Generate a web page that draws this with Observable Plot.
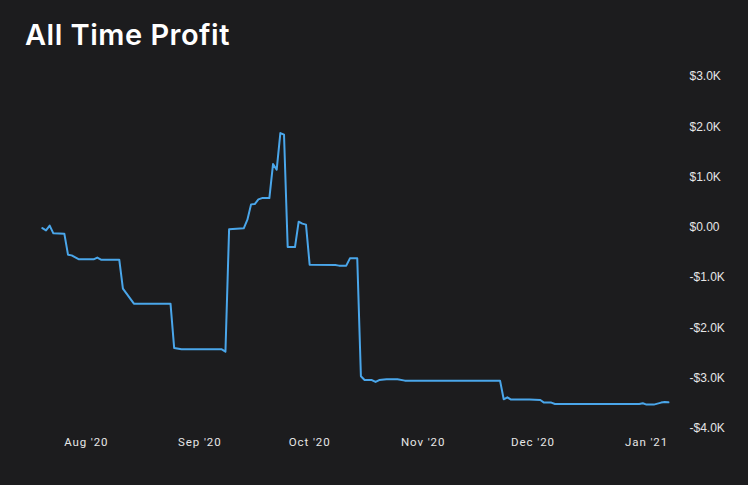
<!DOCTYPE html>
<html>
<head>
<meta charset="utf-8">
<script src="https://cdn.jsdelivr.net/npm/d3@7"></script>
<script src="https://cdn.jsdelivr.net/npm/@observablehq/plot@0.6"></script>
<style>
  html, body { margin: 0; padding: 0; background: #1c1c1e; width: 748px; height: 485px; overflow: hidden; }
  #title { height: 60px; box-sizing: border-box; padding: 20px 0 0 25px; color: #ffffff;
           font-family: Inter, "Open Sans", sans-serif; font-weight: 600; font-size: 29px; line-height: 29px;
           letter-spacing: 0.5px; }
  #chart svg { display: block; }
  #chart g[aria-label="x-axis tick label"] text { letter-spacing: 0.9px; }
</style>
</head>
<body>
<div id="title">All Time Profit</div>
<div id="chart"></div>
<script>
// Profit series (date, cumulative profit in USD)
const dates = [
  "2020-07-20","2020-07-21","2020-07-22","2020-07-23","2020-07-26","2020-07-27","2020-07-28","2020-07-30",
  "2020-08-03","2020-08-04","2020-08-05","2020-08-10","2020-08-11","2020-08-14","2020-08-24","2020-08-25",
  "2020-08-27","2020-09-07","2020-09-08","2020-09-09","2020-09-11","2020-09-13","2020-09-14","2020-09-15",
  "2020-09-16","2020-09-17","2020-09-18","2020-09-20","2020-09-21","2020-09-22","2020-09-23","2020-09-24",
  "2020-09-25","2020-09-27","2020-09-28","2020-09-29","2020-09-30","2020-10-01","2020-10-08","2020-10-09",
  "2020-10-11","2020-10-12","2020-10-14","2020-10-15","2020-10-16","2020-10-18","2020-10-19","2020-10-20",
  "2020-10-22","2020-10-25","2020-10-27","2020-11-22","2020-11-23","2020-11-24","2020-11-25","2020-11-30",
  "2020-12-03","2020-12-04","2020-12-06","2020-12-07","2020-12-30","2020-12-31","2021-01-01","2021-01-03",
  "2021-01-05","2021-01-06","2021-01-07"
];
const profit = [
  -15,-60,34,-119,-125,-543,-557,-636,
  -636,-602,-642,-642,-1219,-1517,-1517,-2400,
  -2425,-2425,-2471,-40,-26,-20,153,457,
  463,557,582,582,1258,1147,1875,1843,
  -392,-392,113,74,54,-742,-750,-761,
  -761,-616,-616,-2962,-3036,-3036,-3075,-3036,
  -3022,-3022,-3048,-3048,-3419,-3380,-3425,-3425,
  -3433,-3485,-3485,-3513,-3513,-3499,-3525,-3525,
  -3485,-3473,-3479
];
const xTicks = ["2020-08-01","2020-09-01","2020-10-01","2020-11-01","2020-12-01","2021-01-01"];
const yTicks = [3000, 2000, 1000, 0, -1000, -2000, -3000, -4000];

const data = dates.map((d, i) => ({date: new Date(d), value: profit[i]}));
const fmtX = d3.utcFormat("%b '%y");
const fmtY = v => v === 0 ? "$0.00" : (v < 0 ? "-" : "") + "$" + (Math.abs(v) / 1000).toFixed(1) + "K";

const chart = Plot.plot({
  width: 748,
  height: 425,
  marginTop: 16,
  marginBottom: 57,
  marginLeft: 20,
  marginRight: 67,
  style: {background: "transparent", color: "#e6e6e6"},
  x: {type: "utc", domain: [new Date(xTicks[0]), new Date(xTicks[5])], range: [85.8, 646]},
  y: {domain: [-4000, 3000], range: [368, 16]},
  marks: [
    Plot.axisX(xTicks.map(d => new Date(d)), {
      tickSize: 0, tickPadding: 9, tickFormat: fmtX, fill: "#e6e6e6",
      fontSize: 11.5, fontFamily: "Roboto, sans-serif", label: null
    }),
    Plot.axisY(yTicks, {
      anchor: "right", tickSize: 0, tickPadding: 8, tickFormat: fmtY, fill: "#e6e6e6",
      fontSize: 12, fontFamily: "'Liberation Sans', Arial, sans-serif", textAnchor: "start", label: null
    }),
    Plot.line(data, {x: "date", y: "value", stroke: "#4aa6ea", strokeWidth: 2, curve: "linear"})
  ]
});
document.getElementById("chart").appendChild(chart);
d3.select(chart).selectAll('g[aria-label="x-axis tick label"] text').attr("letter-spacing", "0.9");
</script>
</body>
</html>
